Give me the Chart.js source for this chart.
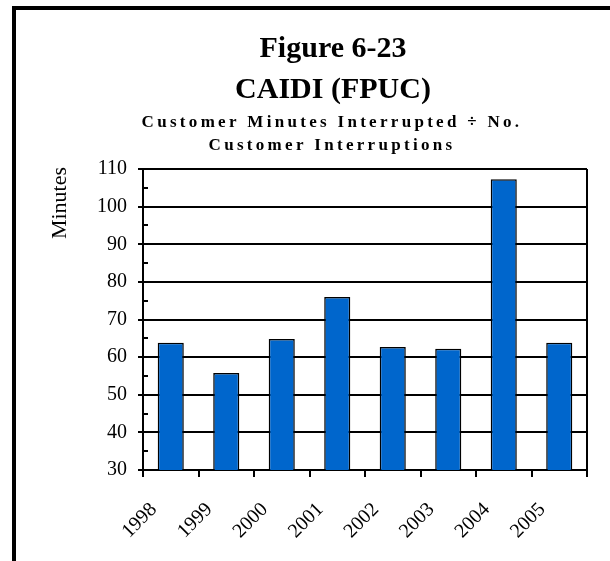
<!DOCTYPE html>
<html>
<head>
<meta charset="utf-8">
<script src="https://cdn.jsdelivr.net/npm/chart.js@4/dist/chart.umd.min.js"></script>
<style>
  body { margin: 0; background: #fff; }
  #frame { position: absolute; left: 12px; top: 6px; width: 610px; height: 570px;
           border-top: 4px solid #000; border-left: 4px solid #000; }
  #wrap { position: absolute; left: 0; top: 0; width: 610px; height: 561px; }
</style>
</head>
<body>
<div id="frame"></div>
<div id="wrap"><canvas id="chart" width="610" height="561"></canvas></div>
<script>
const years = ["1998", "1999", "2000", "2001", "2002", "2003", "2004", "2005"];
const caidi = [63.8, 55.8, 64.8, 76.0, 62.7, 62.2, 107.3, 63.8];
const titleLines = ["Figure 6-23", "CAIDI (FPUC)"];
const subtitleLines = ["Customer Minutes Interrupted \u00f7 No.", "Customer Interruptions"];
const yTitle = "Minutes";

const serif = "'Liberation Serif', 'Times New Roman', serif";

// titles, axis title, minor ticks and plot frame drawn on top of the chart
const extras = {
  id: "extras",
  afterDraw(chart) {
    const ctx = chart.ctx;
    const area = chart.chartArea;
    const y = chart.scales.y;
    ctx.save();
    ctx.fillStyle = "#000";
    ctx.textAlign = "center";
    ctx.textBaseline = "alphabetic";
    ctx.font = "bold 30px " + serif;
    ctx.fillText(titleLines[0], 333, 57);
    ctx.fillText(titleLines[1], 333, 98);
    ctx.font = "bold 17px " + serif;
    if ("letterSpacing" in ctx) ctx.letterSpacing = "3.3px";
    ctx.fillText(subtitleLines[0], 332, 127);
    ctx.fillText(subtitleLines[1], 332, 150);
    if ("letterSpacing" in ctx) ctx.letterSpacing = "0px";

    ctx.font = "22px " + serif;
    ctx.translate(66, 203);
    ctx.rotate(-Math.PI / 2);
    ctx.fillText(yTitle, 0, 0);
    ctx.setTransform(1, 0, 0, 1, 0, 0);

    ctx.strokeStyle = "#000";
    ctx.lineWidth = 2;
    ctx.beginPath();
    for (let v = y.min + 5; v < y.max; v += 10) {
      const py = Math.round(y.getPixelForValue(v));
      ctx.moveTo(area.left, py);
      ctx.lineTo(area.left + 5, py);
    }
    ctx.moveTo(area.right, area.top);
    ctx.lineTo(area.right, area.bottom);
    ctx.stroke();
    ctx.restore();
  }
};

new Chart(document.getElementById("chart"), {
  type: "bar",
  data: {
    labels: years,
    datasets: [{
      data: caidi,
      backgroundColor: "#0066CC",
      borderColor: "#000",
      borderWidth: 1.5,
      barPercentage: 0.47,
      categoryPercentage: 1
    }]
  },
  options: {
    responsive: false,
    animation: false,
    layout: { padding: { top: 169, left: 0, right: 23, bottom: 0 } },
    plugins: { legend: { display: false }, title: { display: false }, tooltip: { enabled: false } },
    scales: {
      x: {
        afterFit(scale) { scale.height = 91; },
        grid: { drawOnChartArea: false, drawTicks: true, tickLength: 7, color: "#000", lineWidth: 2 },
        border: { display: true, color: "#000", width: 2 },
        ticks: {
          color: "#000", font: { family: serif, size: 20 },
          minRotation: 45, maxRotation: 45, padding: 21, labelOffset: -17
        }
      },
      y: {
        min: 30, max: 110,
        afterFit(scale) { scale.width = 143; },
        grid: { color: "#000", lineWidth: 2, tickLength: 5 },
        border: { display: true, color: "#000", width: 2 },
        ticks: { stepSize: 10, color: "#000", padding: 11, font: { family: serif, size: 20 } }
      }
    }
  },
  plugins: [extras]
});
</script>
</body>
</html>
